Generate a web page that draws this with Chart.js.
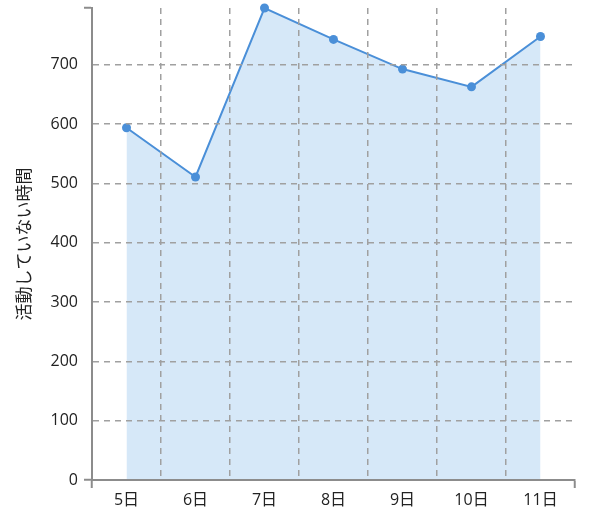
<!DOCTYPE html>
<html>
<head>
<meta charset="utf-8">
<script src="https://cdn.jsdelivr.net/npm/chart.js"></script>
<style>
  html, body { margin: 0; padding: 0; background: #fff; }
  canvas { display: block; }
</style>
</head>
<body>
<canvas id="chart" width="589" height="513"></canvas>
<script>
// days on the x axis
const days = ['5日', '6日', '7日', '8日', '9日', '10日', '11日'];
// inactive time per day
const inactive = [594, 511, 796, 743, 693, 663, 748];
const yTitle = '活動していない時間';
// labelled ticks on the y axis
const yTicks = [0, 100, 200, 300, 400, 500, 600, 700];

const font = '"Open Sans", "Noto Sans CJK JP", sans-serif';
const gridGray = '#a0a0a0';
const axisGray = '#8c8c8c';
const blue = '#4a8fd8';

chartIT();

function chartIT(){
    const ctx = document.getElementById('chart').getContext('2d');
    const yMax = Math.max(...inactive);
    new Chart(ctx, {
        type: 'line',
        data: {
            labels: days,
            datasets: [{
                data: inactive,
                borderColor: blue,
                borderWidth: 2,
                backgroundColor: '#d6e8f8',
                fill: 'origin',
                tension: 0,
                pointRadius: 4.5,
                pointBackgroundColor: blue,
                pointBorderColor: blue,
                pointBorderWidth: 0,
                clip: false
            }]
        },
        options: {
            responsive: false,
            animation: false,
            layout: { padding: { top: 8, right: 14, bottom: 0, left: 0 } },
            plugins: { legend: { display: false }, tooltip: { enabled: false } },
            scales: {
                x: {
                    offset: true,
                    grid: {
                        offset: true,
                        z: 1,
                        lineWidth: 1.5,
                        // no line at either end, only the inner ones
                        color: c => (c.type !== 'tick' || c.index === 0) ? 'transparent' : gridGray,
                        // small ticks only at both ends of the axis
                        tickColor: c => (c.type !== 'tick' || c.index === 0) ? axisGray : 'transparent',
                        tickLength: 8,
                        tickWidth: 2,
                        tickBorderDash: []
                    },
                    border: { color: axisGray, width: 2, dash: [6, 5], z: 2 },
                    ticks: { color: '#222', padding: 3, font: { family: font, size: 16 } },
                    afterFit: s => { s.height = 33; }
                },
                y: {
                    min: 0,
                    max: yMax,
                    afterBuildTicks: s => {
                        s.ticks = yTicks.concat([yMax]).map(v => ({ value: v }));
                    },
                    ticks: {
                        padding: 6,
                        color: '#222',
                        font: { family: font, size: 16 },
                        autoSkip: false,
                        callback: v => yTicks.includes(v) ? v : ''
                    },
                    grid: {
                        z: 1,
                        lineWidth: 1.5,
                        color: c => (c.index === 0 || c.index === yTicks.length) ? 'transparent' : gridGray,
                        tickColor: c => (c.index === 0 || c.index === yTicks.length) ? axisGray : 'transparent',
                        tickLength: 8,
                        tickWidth: 2,
                        tickBorderDash: []
                    },
                    border: { color: axisGray, width: 2, dash: [6, 5], z: 2 },
                    title: {
                        display: true,
                        text: yTitle,
                        color: '#222',
                        font: { family: font, size: 17 },
                        padding: { top: 15, bottom: 0 }
                    },
                    afterFit: s => { s.width = 92; s.paddingTop = 0; }
                }
            }
        }
    });
}
</script>
</body>
</html>
